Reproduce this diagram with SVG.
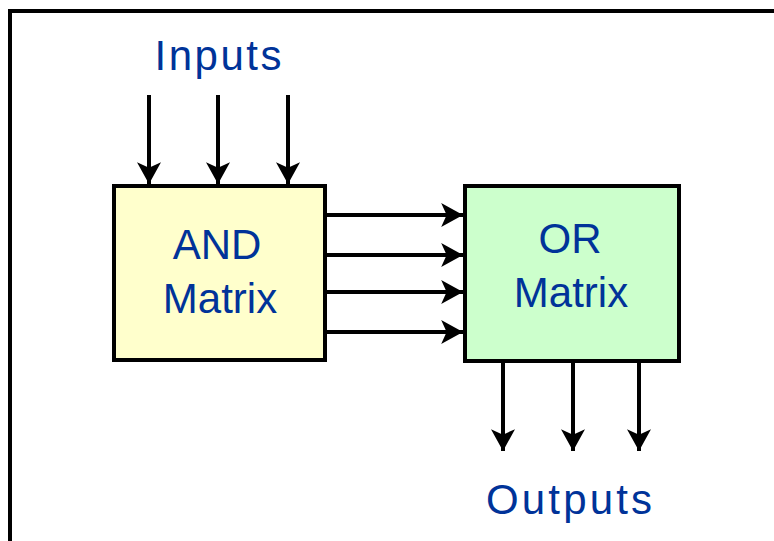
<svg xmlns="http://www.w3.org/2000/svg" width="774" height="541" viewBox="0 0 774 541">
<defs>
<style>
.t{font-family:"Liberation Sans",Arial,sans-serif;font-size:42px;fill:#003399;text-anchor:middle}
.w{stroke:#000;stroke-width:4;fill:none}
.b{stroke:#000;stroke-width:4}
</style>
<marker id="ah" markerUnits="userSpaceOnUse" markerWidth="24" markerHeight="24" viewBox="0 0 20 22" refX="20" refY="11" orient="auto">
<path d="M0,0 L20,11 L0,22 L5,11 Z" fill="#000"/>
</marker>
</defs>
<rect width="774" height="541" fill="#fff"/>
<g id="frame">
<path d="M10,541 V11 H774" class="w"/>
</g>
<g id="connectors">
<line x1="149" y1="95" x2="149" y2="184" class="b" marker-end="url(#ah)"/>
<line x1="218" y1="95" x2="218" y2="184" class="b" marker-end="url(#ah)"/>
<line x1="288" y1="95" x2="288" y2="184" class="b" marker-end="url(#ah)"/>
<line x1="326" y1="215" x2="463" y2="215" class="b" marker-end="url(#ah)"/>
<line x1="326" y1="255" x2="463" y2="255" class="b" marker-end="url(#ah)"/>
<line x1="326" y1="292" x2="463" y2="292" class="b" marker-end="url(#ah)"/>
<line x1="326" y1="332" x2="463" y2="332" class="b" marker-end="url(#ah)"/>
<line x1="503" y1="362" x2="503" y2="451" class="b" marker-end="url(#ah)"/>
<line x1="573" y1="362" x2="573" y2="451" class="b" marker-end="url(#ah)"/>
<line x1="639" y1="362" x2="639" y2="451" class="b" marker-end="url(#ah)"/>
</g>
<g id="inputs"><text x="218" y="70" class="t" textLength="127" lengthAdjust="spacing">Inputs</text></g>
<g id="and-matrix">
<rect x="114" y="186" width="211" height="174" fill="#FFFFCC" class="b"/>
<text x="217" y="259" class="t">AND</text>
<text x="220" y="313" class="t">Matrix</text>
</g>
<g id="or-matrix">
<rect x="465" y="186" width="214" height="175" fill="#CCFFCC" class="b"/>
<text x="570" y="253" class="t">OR</text>
<text x="571" y="307" class="t">Matrix</text>
</g>
<g id="outputs"><text x="569" y="514" class="t" textLength="166" lengthAdjust="spacing">Outputs</text></g>
</svg>
